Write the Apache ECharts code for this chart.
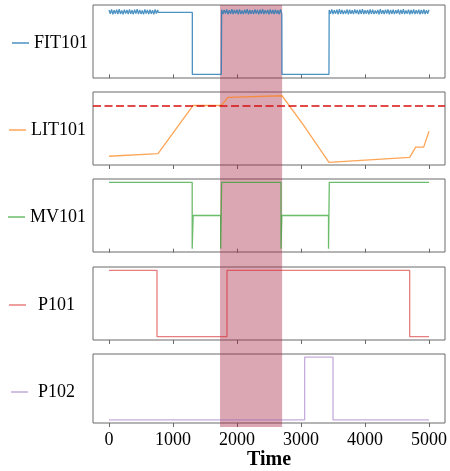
<!DOCTYPE html>
<html>
<head>
<meta charset="utf-8">
<script src="https://cdn.jsdelivr.net/npm/echarts@6/dist/echarts.min.js"></script>
<style>
html,body{margin:0;padding:0;background:#fff;}
#chart{width:450px;height:471px;}
</style>
</head>
<body>
<div id="chart"></div>
<script>
// ---------------- data ----------------
const seriesNames = ['FIT101', 'LIT101', 'MV101', 'P101', 'P102'];
const xTicks = [0, 1000, 2000, 3000, 4000, 5000];
const attackWindow = [1735, 2705];
const litThreshold = 773;

// FIT101: oscillating flow segments sampled every 20 time units
const fitNoiseA = [2.60,2.44,2.62,2.42,2.59,2.45,2.61,2.43,2.63,2.44,
  2.58,2.42,2.61,2.46,2.60,2.43,2.62,2.44,2.59,2.42,
  2.61,2.45,2.63,2.43,2.60,2.44,2.58,2.42,2.62,2.45,
  2.60,2.43,2.61,2.44,2.59,2.42,2.62,2.45,2.60];
const fitNoiseB = [2.61,2.43,2.60,2.45,2.62,2.42,2.59,2.44,2.63,2.43,
  2.60,2.46,2.61,2.42,2.62,2.44,2.58,2.43,2.61,2.45,
  2.63,2.42,2.60,2.44,2.59,2.43,2.62,2.45,2.60,2.42,
  2.61,2.44,2.63,2.43,2.59,2.46,2.60,2.42,2.62,2.44,
  2.60,2.43,2.61,2.45,2.59,2.42,2.62,2.44];
const fitNoiseC = [2.60,2.44,2.62,2.43,2.59,2.45,2.61,2.42,2.63,2.44,
  2.60,2.43,2.58,2.45,2.62,2.42,2.61,2.44,2.59,2.43,
  2.62,2.46,2.60,2.42,2.61,2.44,2.63,2.43,2.59,2.45,
  2.60,2.42,2.62,2.44,2.61,2.43,2.58,2.45,2.60,2.42,
  2.63,2.44,2.59,2.43,2.61,2.45,2.62,2.42,2.60,2.44,
  2.61,2.43,2.59,2.46,2.62,2.42,2.60,2.44,2.63,2.43,
  2.58,2.45,2.61,2.42,2.60,2.44,2.62,2.43,2.59,2.45,
  2.61,2.42,2.60,2.44,2.62,2.43,2.59,2.45,2.61];
const fitNoiseStarts = [0, 1760, 3440];
const fitNoiseStep = 20;
const fitFlat1 = [[770, 2.50], [1302, 2.50], [1302, 0], [1755, 0]];
const fitFlat2 = [[2703, 0], [3437, 0]];

const litData = [[0,529],[766,542],[1312,773],[1755,773],[1859,812],[2703,820],
  [3031,682],[3437,500],[4698,524],[4792,573],[4917,573],[5000,649]];

const mvData = [[0,2],[1300,2],[1300,0],[1315,0],[1315,1],[1745,1],[1745,0],[1760,0],
  [1760,2],[2688,2],[2688,0],[2700,0],[2700,1],[3430,1],[3430,0],[3442,0],[3442,2],[5000,2]];

const p101Data = [[0,2],[750,2],[750,1],[1844,1],[1844,2],[4698,2],[4698,1],[5000,1]];
const p102Data = [[0,1],[3057,1],[3057,2],[3500,2],[3500,1],[5000,1]];

// ---------------- build ----------------
function seg(start, step, vals) { return vals.map((v, i) => [start + i * step, v]); }
const fitData = [].concat(
  seg(fitNoiseStarts[0], fitNoiseStep, fitNoiseA), fitFlat1,
  seg(fitNoiseStarts[1], fitNoiseStep, fitNoiseB), fitFlat2,
  seg(fitNoiseStarts[2], fitNoiseStep, fitNoiseC));

const allData = [fitData, litData, mvData, p101Data, p102Data];
const colors = ['rgba(31,119,180,0.8)', 'rgba(255,127,14,0.7)', 'rgba(44,160,44,0.7)', 'rgba(214,39,40,0.6)', 'rgba(148,103,189,0.55)'];
const yRanges = [[-0.15, 2.8], [487, 838], [-0.1, 2.1], [0.95, 2.05], [0.95, 2.05]];

const gridTops = [5, 92, 179, 267, 354];
const gridH = 73;
const L = 93, R = 5;
const xMin = -250, xMax = 5250;
const serif = "'Times New Roman', 'Liberation Serif', 'DejaVu Serif', serif";
const legendLeft = [12, 9, 8, 9, 11];
const legendPad = [0, 0, 0, 7, 5];

const grid = [], xAxis = [], yAxis = [], series = [], legend = [];
for (let i = 0; i < 5; i++) {
  grid.push({left: L, right: R, top: gridTops[i], height: gridH, show: true,
    borderColor: '#6a6a6a', borderWidth: 1, backgroundColor: 'transparent'});
  xAxis.push({type: 'value', gridIndex: i, min: xMin, max: xMax,
    axisLine: {show: false},
    axisTick: {show: true, customValues: xTicks, length: 4, lineStyle: {color: '#6a6a6a'}},
    axisLabel: {show: i === 4, customValues: xTicks, formatter: v => String(v),
      fontFamily: serif, fontSize: 18, color: '#000', margin: 8},
    splitLine: {show: false},
    name: i === 4 ? 'Time' : '', nameLocation: 'middle', nameGap: 27,
    nameTextStyle: {fontFamily: serif, fontSize: 20, fontWeight: 'bold', color: '#000'}});
  yAxis.push({type: 'value', gridIndex: i, min: yRanges[i][0], max: yRanges[i][1],
    axisLine: {show: false}, axisTick: {show: false}, axisLabel: {show: false}, splitLine: {show: false}});
  const s = {name: seriesNames[i], type: 'line', xAxisIndex: i, yAxisIndex: i,
    data: allData[i], symbol: 'none', showSymbol: false, color: colors[i], animation: false,
    lineStyle: {width: 1.3, color: colors[i]}, z: 2};
  if (i === 1) {
    s.markLine = {silent: true, symbol: ['none', 'none'], animation: false,
      label: {show: false}, lineStyle: {color: '#d81010', type: [8, 3.5], width: 1.5},
      data: [{yAxis: litThreshold}]};
  }
  series.push(s);
  legend.push({data: [seriesNames[i]], left: legendLeft[i], top: gridTops[i] + gridH / 2 - 7.5,
    padding: 0, icon: 'rect', itemWidth: 17, itemHeight: 1.5, selectedMode: false,
    itemStyle: {color: colors[i], borderWidth: 0},
    textStyle: {fontFamily: serif, fontSize: 18, color: '#000', padding: [0, 0, 0, legendPad[i]]}});
}
// overlay grid for the shaded attack window spanning all panels
grid.push({left: L, right: R, top: gridTops[0], height: gridTops[4] + gridH - gridTops[0], show: false});
xAxis.push({type: 'value', gridIndex: 5, min: xMin, max: xMax, show: false});
yAxis.push({type: 'value', gridIndex: 5, min: 0, max: 1, show: false});
series.push({type: 'line', xAxisIndex: 5, yAxisIndex: 5, data: [[0, -1]], symbol: 'none',
  lineStyle: {opacity: 0}, z: 10, animation: false,
  markArea: {silent: true, animation: false, itemStyle: {color: 'rgba(165,35,65,0.4)'},
    data: [[{xAxis: attackWindow[0]}, {xAxis: attackWindow[1]}]]}});

const chart = echarts.init(document.getElementById('chart'), null, {renderer: 'canvas'});
chart.setOption({animation: false, backgroundColor: '#fff', grid, xAxis, yAxis, series, legend});
</script>
</body>
</html>
